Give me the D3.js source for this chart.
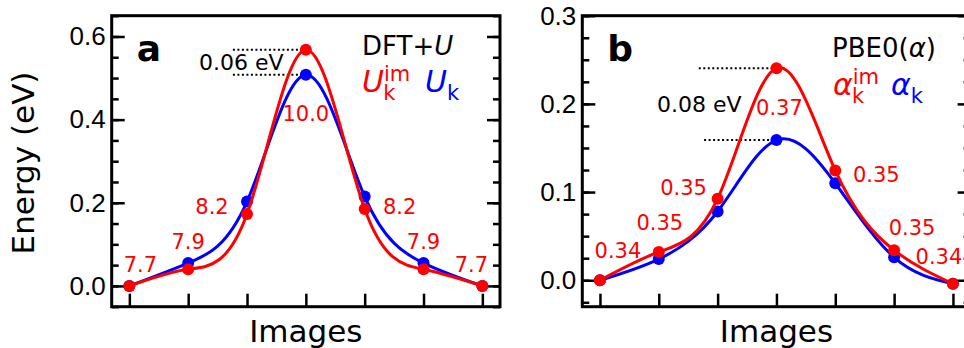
<!DOCTYPE html>
<html>
<head>
<meta charset="utf-8">
<script src="https://cdn.jsdelivr.net/npm/d3@7"></script>
<style>
  body { margin: 0; background: #fff; }
  svg { display: block; font-family: "DejaVu Sans", sans-serif; }
  .tick line { stroke: #000; stroke-width: 2.5; }
  .tick text { font-size: 26px; fill: #000; }
</style>
</head>
<body>
<svg id="chart" width="964" height="348"></svg>
<script>
// images along the path
const images = [0, 1, 2, 3, 4, 5, 6];

// panel a: DFT+U
const uIm = [0, 0.04, 0.173, 0.568, 0.185, 0.04, 0];
const uK = [0, 0.055, 0.203, 0.508, 0.215, 0.055, 0];
const uLabels = ["7.7", "7.9", "8.2", "10.0", "8.2", "7.9", "7.7"];
const yTicksA = [0, 0.2, 0.4, 0.6];

// panel b: PBE0(alpha)
const alphaIm = [0, 0.032, 0.0925, 0.2405, 0.1245, 0.034, -0.004];
const alphaK = [0, 0.024, 0.078, 0.159, 0.110, 0.026, -0.004];
const alphaLabels = ["0.34", "0.35", "0.35", "0.37", "0.35", "0.35", "0.34"];
const yTicksB = [0, 0.1, 0.2, 0.3];

const red = "#ff0000", blue = "#0000ff";
const svg = d3.select("#chart");

const panels = [
    {
        left: 111.7, yDomain: [-0.05, 0.65], ticks: yTicksA, minorStep: 0.05,
        im: uIm, k: uK, labels: uLabels,
        // label offsets from the red points (dx, dy of the baseline)
        offsets: [[11, -14], [0, -20], [-35, 0], [0, 71], [35, 5], [0, -20], [-11, -14]],
        letter: "a", barrier: "0.06 eV", barrierPos: [199, 70],
        dotStart: [1.76, 1.76]
    },
    {
        left: 582.3, yDomain: [-0.03, 0.3], ticks: yTicksB, minorStep: 0.025,
        im: alphaIm, k: alphaK, labels: alphaLabels,
        offsets: [[18, -22], [1, -22], [-34, -4], [3, 47], [41, 12], [18, -15], [-14, -20]],
        letter: "b", barrier: "0.08 eV", barrierPos: [657, 112],
        dotStart: [1.68, 1.77]
    }
];

const plotTop = 15.7, plotBottom = 306.7, plotWidth = 388.3;

panels.forEach(p => {
    const g = svg.append("g").attr("transform", `translate(${p.left},0)`);
    const x = d3.scaleLinear().domain([-0.3, 6.3]).range([0, plotWidth]);
    const y = d3.scaleLinear().domain(p.yDomain).range([plotBottom, plotTop]);

    const minor = d3.range(Math.ceil(p.yDomain[0] / p.minorStep) * p.minorStep,
        p.yDomain[1] + 1e-9, p.minorStep).map(v => +v.toFixed(4));

    g.append("g")
        .call(d3.axisLeft(y).tickValues(minor).tickSize(-7).tickFormat(""))
        .call(a => a.select(".domain").remove());
    g.append("g")
        .call(d3.axisLeft(y).tickValues(p.ticks).tickSize(-13).tickPadding(6)
            .tickFormat(d3.format(".1f")))
        .call(a => a.select(".domain").remove());
    g.append("g").attr("transform", `translate(${plotWidth},0)`)
        .call(d3.axisRight(y).tickValues(minor).tickSize(-7).tickFormat(""))
        .call(a => a.select(".domain").remove());
    g.append("g").attr("transform", `translate(${plotWidth},0)`)
        .call(d3.axisRight(y).tickValues(p.ticks).tickSize(-13).tickFormat(""))
        .call(a => a.select(".domain").remove());
    g.append("g").attr("transform", `translate(0,${plotBottom})`)
        .call(d3.axisBottom(x).tickValues(images).tickSize(-13).tickFormat(""))
        .call(a => a.select(".domain").remove());

    g.append("rect")
        .attr("x", 0).attr("y", plotTop)
        .attr("width", plotWidth).attr("height", plotBottom - plotTop)
        .attr("fill", "none").attr("stroke", "#000").attr("stroke-width", 3);

    // dotted barrier guides
    const peak = 3;
    [[p.im[peak], p.dotStart[0]], [p.k[peak], p.dotStart[1]]].forEach(([v, s]) => {
        g.append("line")
            .attr("x1", x(s)).attr("x2", x(peak))
            .attr("y1", y(v)).attr("y2", y(v))
            .attr("stroke", "#000").attr("stroke-width", 2)
            .attr("stroke-dasharray", "2 2.5");
    });

    const line = d3.line().x((d, i) => x(images[i])).y(d => y(d)).curve(d3.curveNatural);

    [[p.k, blue], [p.im, red]].forEach(([vals, c]) => {
        g.append("path").attr("d", line(vals))
            .attr("fill", "none").attr("stroke", c).attr("stroke-width", 3);
        g.selectAll(null).data(vals).join("circle")
            .attr("cx", (d, i) => x(images[i])).attr("cy", d => y(d))
            .attr("r", 6).attr("fill", c);
    });

    g.selectAll(null).data(p.labels).join("text")
        .attr("x", (d, i) => x(images[i]) + p.offsets[i][0])
        .attr("y", (d, i) => y(p.im[i]) + p.offsets[i][1])
        .attr("text-anchor", "middle")
        .attr("font-size", 21).attr("fill", red)
        .text(d => d);

    g.append("text")
        .attr("x", x(-0.3) + 25).attr("y", 61)
        .attr("font-size", 36).attr("font-weight", "bold")
        .text(p.letter);

    svg.append("text")
        .attr("x", p.barrierPos[0]).attr("y", p.barrierPos[1])
        .attr("font-size", 22)
        .text(p.barrier);

    svg.append("text")
        .attr("x", p.left + x(3)).attr("y", 341.5)
        .attr("text-anchor", "middle").attr("font-size", 31)
        .text("Images");
});

// y label
svg.append("text")
    .attr("transform", "translate(34,163) rotate(-90)")
    .attr("text-anchor", "middle").attr("font-size", 31)
    .text("Energy (eV)");

// legend, panel a
svg.append("text").attr("x", 362).attr("y", 55).attr("font-size", 26)
    .call(t => {
        t.append("tspan").text("DFT+");
        t.append("tspan").attr("font-style", "italic").text("U");
    });

// symbol with optional "im" superscript and "k" subscript, one text element
function mathLabel(sym, x0, base, color, sup) {
    const t = svg.append("text").attr("x", x0).attr("y", base).attr("fill", color);
    t.append("tspan").attr("font-size", 30).attr("font-style", "italic").text(sym);
    if (sup) {
        t.append("tspan").attr("font-size", 21).attr("dy", -11).text("im");
        t.append("tspan").attr("font-size", 21).attr("dx", -27).attr("dy", 19).text("k");
    } else {
        t.append("tspan").attr("font-size", 21).attr("dy", 8).text("k");
    }
}
mathLabel("U", 362, 91.7, red, true);
mathLabel("U", 425, 91.7, blue, false);

// legend, panel b
svg.append("text").attr("x", 832).attr("y", 56.7).attr("font-size", 26)
    .call(t => {
        t.append("tspan").text("PBE0(");
        t.append("tspan").attr("font-style", "italic").text("α");
        t.append("tspan").text(")");
    });
mathLabel("α", 833, 95, red, true);
mathLabel("α", 891, 95, blue, false);
</script>
</body>
</html>
